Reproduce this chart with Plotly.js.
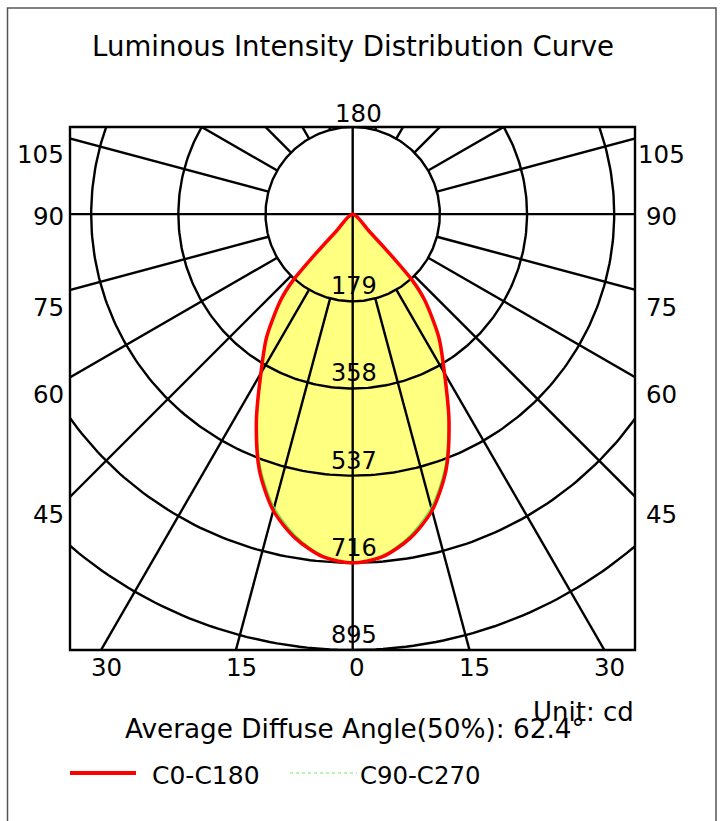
<!DOCTYPE html>
<html><head><meta charset="utf-8">
<script src="https://cdn.plot.ly/plotly-3.0.1.min.js"></script>
<style>html,body{margin:0;padding:0;background:#fff}#chart{width:723px;height:821px}</style>
</head><body><div id="chart"></div>
<script>
// ---- data ----
const ANGLES   = [0, 5, 10, 15, 20, 25, 30, 35, 40, 42, 43, 44, 45];       // degrees from nadir
const C0_C180  = [716, 706, 676, 630, 560, 468, 377, 308, 229, 183, 120, 50, 0]; // cd
const C90_C270 = [716, 704, 671, 623, 553, 463, 374, 306, 228, 182, 119, 49, 0]; // cd
const SERIES_NAMES = ['C0-C180', 'C90-C270'];
const RINGS = [179, 358, 537, 716, 895];
const RING_LABELS = ['179', '358', '537', '716', '895'];
const SPOKE_ANGLES = [15, 30, 45, 60, 75, 105, 120, 135, 150, 165];
const SIDE_LABELS = ['105', '90', '75', '60', '45'];
const BOTTOM_LABELS = ['30', '15', '0', '15', '30'];
const TOP_LABEL = '180';
const TITLE = 'Luminous Intensity Distribution Curve';
const NOTE = 'Average Diffuse Angle(50%): 62.4°';
const UNIT = 'Unit: cd';

// ---- geometry helpers ----
const L = 70, R = 635, T = 127, B = 650;           // plot box in px
const W = R - L, H = B - T;
const px = (x, y) => ({x: (x - L) / W, y: (B - y) / H});
const D = Math.PI / 180;
const FONT = 'DejaVu Sans, Verdana, sans-serif';
const SMOOTH = 0.8;

// path starts and ends at the tip so the cusp stays sharp
function curve(vals) {
  const xs = [], ys = [];
  for (let i = ANGLES.length - 1; i >= 0; i--) {
    const t = ANGLES[i] * D;
    xs.push(vals[i] * Math.sin(t)); ys.push(-vals[i] * Math.cos(t));
  }
  for (let i = 1; i < ANGLES.length; i++) {
    const t = ANGLES[i] * D;
    xs.push(-vals[i] * Math.sin(t)); ys.push(-vals[i] * Math.cos(t));
  }
  return {xs, ys};
}

const c0 = curve(C0_C180), c90 = curve(C90_C270);

// rings
const rx = [], ry = [];
RINGS.forEach(r => {
  for (let a = 0; a <= 360; a += 1) { rx.push(r * Math.sin(a * D)); ry.push(-r * Math.cos(a * D)); }
  rx.push(null); ry.push(null);
});
// spokes from first ring outward
const sx = [], sy = [];
SPOKE_ANGLES.forEach(a => {
  [-1, 1].forEach(s => {
    sx.push(s * RINGS[0] * Math.sin(a * D), s * 3000 * Math.sin(a * D), null);
    sy.push(-RINGS[0] * Math.cos(a * D), -3000 * Math.cos(a * D), null);
  });
});
// full axes lines (0/180 and 90)
sx.push(-3000, 3000, null, 0, 0, null);
sy.push(0, 0, null, -3000, 3000, null);

const gridLine = {color: '#000', width: 2.4};
const traces = [
  {x: c0.xs, y: c0.ys, mode: 'lines', fill: 'toself', fillcolor: '#ffff80', line: {width: 0, shape: 'spline', smoothing: SMOOTH}, hoverinfo: 'skip', showlegend: false},
  {x: rx, y: ry, mode: 'lines', line: gridLine, hoverinfo: 'skip', showlegend: false},
  {x: sx, y: sy, mode: 'lines', line: gridLine, hoverinfo: 'skip', showlegend: false},
  {x: c90.xs, y: c90.ys, mode: 'lines', name: SERIES_NAMES[1], line: {color: '#44ee44', width: 1.2, shape: 'spline', smoothing: SMOOTH}, showlegend: false},
  {x: c0.xs, y: c0.ys, mode: 'lines', name: SERIES_NAMES[0], line: {color: '#ff0000', width: 3.5, shape: 'spline', smoothing: SMOOTH}, showlegend: false}
];

const ann = [];
function txt(text, x, y, size, xanchor) {
  const p = px(x, y);
  ann.push({text, x: p.x, y: p.y, xref: 'paper', yref: 'paper', showarrow: false,
    xanchor: xanchor || 'center', yanchor: 'middle', font: {family: FONT, size, color: '#000'}});
}
// ring labels (data coords)
RINGS.forEach((r, i) => {
  ann.push({text: RING_LABELS[i], x: 2, y: -r + 31, xref: 'x', yref: 'y', showarrow: false,
    xanchor: 'center', yanchor: 'middle', font: {family: FONT, size: 24, color: '#000'}});
});
const sideY = [155, 216, 307, 394, 514];
SIDE_LABELS.forEach((t, i) => { txt(t, 66, sideY[i], 24.5, 'right'); txt(t, 661, sideY[i], 24.5, 'center'); });
const botX = [106.7, 241, 357, 474, 609.5];
BOTTOM_LABELS.forEach((t, i) => txt(t, botX[i], 667, 24.5, 'center'));
txt(TOP_LABEL, 358, 113, 24.5, 'center');
txt(NOTE, 123, 729, 26.3, 'left');
txt(UNIT, 636, 712, 26, 'right');
txt(SERIES_NAMES[0], 150, 775, 25, 'left');
txt(SERIES_NAMES[1], 358, 775, 24.4, 'left');

const shp = [];
function line(x0, y0, x1, y1, color, width, dash) {
  const a = px(x0, y0), b = px(x1, y1);
  shp.push({type: 'line', xref: 'paper', yref: 'paper', x0: a.x, y0: a.y, x1: b.x, y1: b.y,
    line: {color, width, dash: dash || 'solid'}, layer: 'above'});
}
// plot frame
shp.push({type: 'rect', xref: 'paper', yref: 'paper', x0: 0, y0: 0, x1: 1, y1: 1, line: {color: '#000', width: 2.4}, layer: 'above'});
// outer frame
const o0 = px(7.5, 8), o1 = px(716, 840);
shp.push({type: 'rect', xref: 'paper', yref: 'paper', x0: o0.x, y0: o1.y, x1: o1.x, y1: o0.y, line: {color: '#555', width: 1.5}, layer: 'above'});
// legend keys
line(70, 773, 136, 773, '#ff0000', 4);
line(290, 773, 357, 773, '#66ee66', 1, 'dot');

const layout = {
  width: 723, height: 821,
  margin: {l: L, r: 723 - R, t: T, b: 821 - B, pad: 0},
  paper_bgcolor: '#fff', plot_bgcolor: '#fff',
  title: {text: TITLE, font: {family: FONT, size: 27.6, color: '#000'}, x: (353 - L) / W, xref: 'paper', xanchor: 'center',
    y: 1 - 46 / 821, yref: 'container', yanchor: 'middle'},
  xaxis: {range: [-580.5, 579.7], showgrid: false, zeroline: false, showticklabels: false, ticks: '', showline: false, fixedrange: true},
  yaxis: {range: [-895, 179], showgrid: false, zeroline: false, showticklabels: false, ticks: '', showline: false, fixedrange: true},
  showlegend: false,
  annotations: ann,
  shapes: shp
};
Plotly.newPlot('chart', traces, layout, {staticPlot: true, displayModeBar: false});
</script>
</body></html>
